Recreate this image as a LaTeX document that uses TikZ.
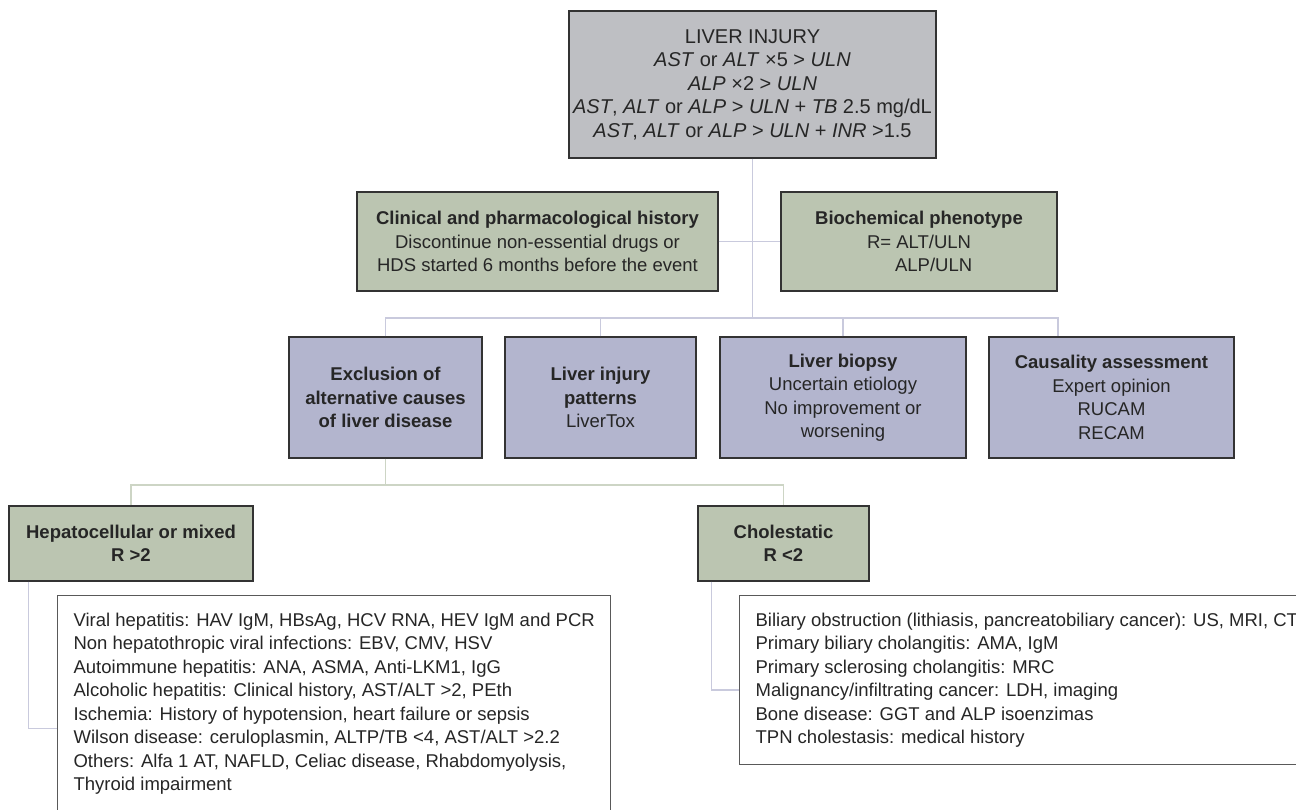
\documentclass[tikz,border=0pt]{standalone}
\usepackage{fontspec}
\setmainfont{Liberation Sans}
\definecolor{injgray}{HTML}{BEBFC3}
\definecolor{histgreen}{HTML}{BBC5B1}
\definecolor{testblue}{HTML}{B3B5CE}
\definecolor{linkblue}{HTML}{C9CADD}
\definecolor{linkgreen}{HTML}{CDD5C5}

\begin{document}
\begin{tikzpicture}[x=1pt,y=-1pt,
    font=\fontsize{18.5}{23.5}\selectfont,
    box/.style={draw=black!80,line width=1.3pt,align=center,inner sep=0pt,text=black!85},
    graybox/.style={box,fill=injgray},
    greenbox/.style={box,fill=histgreen},
    bluebox/.style={box,fill=testblue,minimum height=121pt},
    listbox/.style={draw=black!65,line width=1.2pt,fill=white,align=left,inner xsep=16pt,inner ysep=17pt,anchor=north west,text=black!85},
    bluelink/.style={linkblue,line width=1.5pt},
    greenlink/.style={linkgreen,line width=1.5pt}]
  \clip (0,0) rectangle (1296,810);
  \node[graybox,minimum width=367pt,minimum height=147pt,font=\fontsize{20}{23.5}\selectfont] (injury) at (752.5,84.5)
    {LIVER INJURY\\
     \textit{AST} or \textit{ALT} ×5 > \textit{ULN}\\
     \textit{ALP} ×2 > \textit{ULN}\\
     \textit{AST}, \textit{ALT} or \textit{ALP} > \textit{ULN} + \textit{TB} 2.5 mg/dL\\
     \textit{AST}, \textit{ALT} or \textit{ALP} > \textit{ULN} + \textit{INR} >1.5};
  \node[greenbox,minimum width=361pt,minimum height=99pt] (clinical) at (537.5,241.5)
    {\textbf{Clinical and pharmacological history}\\
     Discontinue non-essential drugs or\\
     HDS started 6 months before the event};
  \node[greenbox,minimum width=276pt,minimum height=99pt] (biochem) at (919,241.5)
    {\textbf{Biochemical phenotype}\\
     R= ALT/ULN\\
     \phantom{R= }ALP/ULN};
  \node[bluebox,minimum width=193pt] (excl) at (385.5,397.5)
    {\textbf{Exclusion of}\\ \textbf{alternative causes}\\ \textbf{of liver disease}};
  \node[bluebox,minimum width=191pt] (pattern) at (600.5,397.5)
    {\textbf{Liver injury}\\ \textbf{patterns}\\ LiverTox};
  \node[bluebox,minimum width=246pt] (biopsy) at (843,397.5)
    {\textbf{Liver biopsy}\\ Uncertain etiology\\ No improvement or\\ worsening};
  \node[bluebox,minimum width=245pt] (causal) at (1111.5,397.5)
    {\textbf{Causality assessment}\\ Expert opinion\\ RUCAM\\ RECAM};
  \node[greenbox,minimum width=244pt,minimum height=75pt] (hepato) at (131,543.5)
    {\textbf{Hepatocellular or mixed}\\ \textbf{R >2}};
  \node[greenbox,minimum width=171pt,minimum height=75pt] (chole) at (783.5,543.5)
    {\textbf{Cholestatic}\\ \textbf{R <2}};
  \node[listbox] (hlist) at (57,595)
    {Viral hepatitis: HAV IgM, HBsAg, HCV RNA, HEV IgM and PCR\\
     Non hepatothropic viral infections: EBV, CMV, HSV\\
     Autoimmune hepatitis: ANA, ASMA, Anti-LKM1, IgG\\
     Alcoholic hepatitis: Clinical history, AST/ALT >2, PEth\\
     Ischemia: History of hypotension, heart failure or sepsis\\
     Wilson disease: ceruloplasmin, ALTP/TB <4, AST/ALT >2.2\\
     Others: Alfa 1 AT, NAFLD, Celiac disease, Rhabdomyolysis,\\
     Thyroid impairment};
  \node[listbox] (clist) at (739,595)
    {Biliary obstruction (lithiasis, pancreatobiliary cancer): US, MRI, CT\\
     Primary biliary cholangitis: AMA, IgM\\
     Primary sclerosing cholangitis: MRC\\
     Malignancy/infiltrating cancer: LDH, imaging\\
     Bone disease: GGT and ALP isoenzimas\\
     TPN cholestasis: medical history};
  \coordinate (bus) at (750,318);
  \coordinate (busend) at (1058,318);
  \coordinate (lowbus) at (385.5,485);
  \draw[bluelink] (injury.south) -- (injury.south |- bus);
  \draw[bluelink] (clinical.east) -- (biochem.west);
  \draw[bluelink] (excl.north) |- (busend) -- (busend |- causal.north);
  \draw[bluelink] (pattern.north) -- (pattern.north |- bus);
  \draw[bluelink] (biopsy.north) -- (biopsy.north |- bus);
  \draw[greenlink] (excl.south) -- (excl.south |- lowbus);
  \draw[greenlink] (hepato.north) |- (lowbus) -| (chole.north);
  \draw[bluelink] ([xshift=20pt]hepato.south west) |- ([yshift=-25pt]hlist.west);
  \draw[bluelink] ([xshift=14pt]chole.south west) |- ([yshift=-10pt]clist.west);
\end{tikzpicture}
\end{document}
